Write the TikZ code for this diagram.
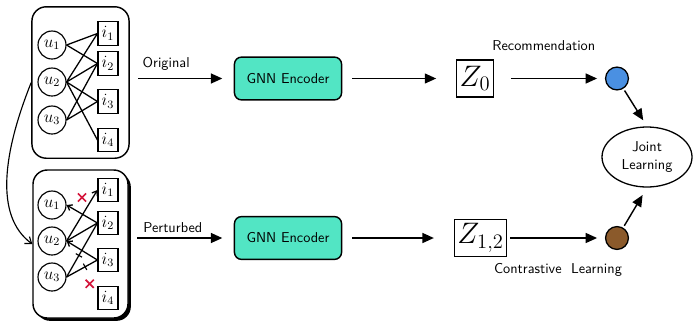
\documentclass[tikz,border=0pt]{standalone}
\usetikzlibrary{arrows.meta,positioning,shapes.geometric,shapes.misc,shadows}
\definecolor{encfill}{HTML}{52E5C4}
\definecolor{recblue}{HTML}{4A90E2}
\definecolor{clbrown}{HTML}{8B5A2B}
\definecolor{cutred}{HTML}{D4163C}
\tikzset{
  user/.style={circle,draw,line width=0.8pt,minimum size=19.6pt,inner sep=0pt,font=\large},
  item/.style={rectangle,draw,line width=0.8pt,minimum width=14pt,minimum height=16.5pt,inner sep=0pt,font=\large},
  graphbox/.style={rectangle,rounded corners=10pt,draw,line width=1pt},
  link/.style={line width=0.9pt},
  tipped/.style={link,-{Straight Barb[length=3pt,width=4.5pt]}},
  tick/.style={draw,sloped,line width=0.8pt,inner sep=0pt,minimum width=0pt,minimum height=5pt},
  cut/.style={cross out,draw=cutred,line width=1.2pt,minimum size=4.5pt,inner sep=0pt},
  encbox/.style={rectangle,rounded corners=5pt,draw,line width=1pt,fill=encfill,minimum width=75pt,minimum height=30pt},
  zbox/.style={rectangle,draw,line width=0.9pt,inner sep=2pt,minimum height=26pt,font=\huge},
  lossdot/.style={circle,draw,line width=0.9pt,minimum size=16pt,inner sep=0pt},
  flow/.style={line width=1pt,-{Triangle[length=8pt,width=7pt]}},
}
\begin{document}
\begin{tikzpicture}[x=0.7pt,y=-0.7pt,font=\sffamily]
  \useasboundingbox (0,0) rectangle (694,325);

  % original user-item graph
  \node[graphbox,minimum width=68pt,minimum height=106pt] (G0) at (80.5,82.5) {};
  \node[user] (u1) at (52,45) {$u_1$};
  \node[user] (u2) at (52,82) {$u_2$};
  \node[user] (u3) at (52,120) {$u_3$};
  \node[item] (i1) at (108,33.5) {$i_1$};
  \node[item] (i2) at (108,63.5) {$i_2$};
  \node[item] (i3) at (108,101.5) {$i_3$};
  \node[item] (i4) at (108,140) {$i_4$};
  \foreach \u/\i in {u1/i1,u1/i2,u2/i1,u2/i2,u2/i3,u2/i4,u3/i2,u3/i3}
    \draw[link] (\u.east) -- (\i.west);

  % perturbed graph
  \node[graphbox,minimum width=66.5pt,minimum height=103.6pt,
        drop shadow={shadow xshift=2pt,shadow yshift=-2pt,fill=black,opacity=1},fill=white] (G1) at (80.5,244) {};
  \node[user] (pu1) at (52,205) {$u_1$};
  \node[user] (pu2) at (52,241) {$u_2$};
  \node[user] (pu3) at (52,277) {$u_3$};
  \node[item] (pi1) at (108,190) {$i_1$};
  \node[item] (pi2) at (108,223) {$i_2$};
  \node[item] (pi3) at (108,260) {$i_3$};
  \node[item] (pi4) at (108,298) {$i_4$};
  \draw[tipped] (pi2.west) -- (pu1.east);
  \draw[tipped] (pu2.east) -- (pi1.west);
  \draw[link] (pu2.east) -- (pi2.west);
  \draw[tipped] (pi3.west) -- (pu2.east);
  \draw[link] (pu3.east) -- node[tick,pos=0.4]{} (pi2.west);
  \draw[link] (pu3.east) -- node[tick,pos=0.6]{} (pi3.west);
  % dropped edges
  \path (pu1.east) -- node[cut]{} (pi1.west);
  \path (pu2.east) -- node[cut,pos=0.75]{} (pi4.west);

  \draw[line width=0.8pt,-{Straight Barb[length=4pt,width=6pt]}] (G0.west) .. controls +(-28,70) and +(-38,-28) .. (G1.west);

  % encoders
  \node[encbox] (E0) at (288,78.5) {GNN Encoder};
  \node[encbox] (E1) at (288,238) {GNN Encoder};
  \node[zbox] (Z0) at (475,78.5) {$Z_0$};
  \node[zbox] (Z1) at (480.5,238) {$Z_{1,2}$};

  % losses
  \node[lossdot,fill=recblue] (R) at (617,78.5) {};
  \node[lossdot,fill=clbrown] (C) at (617,238) {};
  \node[ellipse,draw,line width=0.9pt,minimum width=63pt,minimum height=42pt,align=center,inner sep=0pt] (J) at (647,157) {Joint\\Learning};

  \draw[flow,shorten <=6pt,shorten >=8pt] (G0.east |- E0) -- node[above,pos=0.35,yshift=2pt]{Original} (E0);
  \draw[flow,shorten <=6pt,shorten >=8pt] (G1.east |- E1) -- node[above,pos=0.42]{Perturbed} (E1);
  \draw[flow,shorten <=7pt,shorten >=14pt] (E0) -- (Z0);
  \draw[flow,shorten <=7pt,shorten >=14pt] (E1) -- (Z1);
  \draw[flow,shorten <=12pt,shorten >=5.5pt] (Z0) -- node[above=16pt,pos=0.45]{Recommendation} (R);
  \draw[flow,shorten <=2pt,shorten >=5.5pt] (Z1) -- node[below=14pt,pos=0.52]{Contrastive\ \ Learning} (C);
  \draw[flow,shorten <=1.5pt,shorten >=5pt] (R) -- (J.north);
  \draw[flow,shorten <=1.5pt,shorten >=6pt] (C) -- (J.south);
\end{tikzpicture}
\end{document}
